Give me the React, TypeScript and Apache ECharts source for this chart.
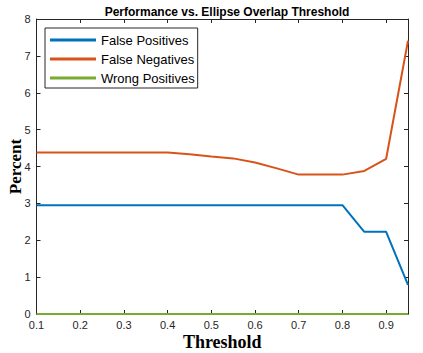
import React, { useEffect, useRef } from "react";
import * as echarts from "echarts";

const thresholds = [0.1, 0.15, 0.2, 0.25, 0.3, 0.35, 0.4, 0.45, 0.5, 0.55, 0.6, 0.65, 0.7, 0.75, 0.8, 0.85, 0.9, 0.95];
const falsePositives = [2.95, 2.95, 2.95, 2.95, 2.95, 2.95, 2.95, 2.95, 2.95, 2.95, 2.95, 2.95, 2.95, 2.95, 2.95, 2.23, 2.23, 0.79];
const falseNegatives = [4.38, 4.38, 4.38, 4.38, 4.38, 4.38, 4.38, 4.33, 4.27, 4.22, 4.11, 3.95, 3.78, 3.78, 3.78, 3.88, 4.21, 7.41];
const wrongPositives = [0, 0, 0, 0, 0, 0, 0, 0, 0, 0, 0, 0, 0, 0, 0, 0, 0, 0];
const seriesNames = ["False Positives", "False Negatives", "Wrong Positives"];
const colors = ["#0072BD", "#D95319", "#77AC30"];

const AX = "#262626";
const SANS = "Liberation Sans, Arial, sans-serif";
const SERIF = "Liberation Serif, Times New Roman, serif";

export default function App() {
  const ref = useRef<HTMLDivElement>(null);
  useEffect(() => {
    if (!ref.current) return;
    const chart = echarts.init(ref.current, null, { renderer: "svg" });
    const data = [falsePositives, falseNegatives, wrongPositives];
    const tickCommon = { show: true, inside: true, length: 4, lineStyle: { color: AX, width: 1 } };
    chart.setOption({
      animation: false,
      backgroundColor: "#ffffff",
      title: {
        text: "Performance vs. Ellipse Overlap Threshold",
        left: 222,
        textAlign: "center",
        top: 1,
        textStyle: { fontFamily: SANS, fontSize: 12, fontWeight: "bold", color: "#000" },
      },
      legend: {
        orient: "vertical",
        left: 45,
        top: 28,
        padding: [4, 3, 2, 5],
        itemGap: 3,
        itemWidth: 46,
        itemHeight: 3,
        icon: "rect",
        borderColor: AX,
        borderWidth: 1,
        backgroundColor: "#fff",
        textStyle: { fontFamily: SANS, fontSize: 13, color: "#000", lineHeight: 16 },
        data: seriesNames,
      },
      grid: { left: 36.5, right: 15, top: 19, bottom: 39, containLabel: false, outerBoundsMode: "none" },
      xAxis: [
        {
          type: "value",
          min: 0.1,
          max: 0.95,
          interval: 0.1,
          position: "bottom",
          axisLine: { show: true, onZero: false, lineStyle: { color: AX, width: 1 } },
          axisTick: tickCommon,
          splitLine: { show: false },
          axisLabel: {
            showMaxLabel: false,
            fontFamily: SANS,
            fontSize: 11,
            color: AX,
            margin: 5,
            formatter: (v: number) => (Math.abs(v - 0.95) < 1e-6 ? "" : v.toFixed(1)),
          },
          name: "Threshold",
          nameLocation: "middle",
          nameMoveOverlap: false,
          nameGap: 19,
          nameTextStyle: { fontFamily: SERIF, fontSize: 18, fontWeight: "bold", color: "#000" },
        },
        {
          type: "value",
          min: 0.1,
          max: 0.95,
          interval: 0.1,
          position: "top",
          axisLine: { show: true, onZero: false, lineStyle: { color: AX, width: 1 } },
          axisTick: tickCommon,
          axisLabel: { show: false },
          splitLine: { show: false },
        },
      ],
      yAxis: [
        {
          type: "value",
          min: 0,
          max: 8,
          interval: 1,
          position: "left",
          axisLine: { show: true, onZero: false, lineStyle: { color: AX, width: 1 } },
          axisTick: tickCommon,
          splitLine: { show: false },
          axisLabel: { fontFamily: SANS, fontSize: 11, color: AX, margin: 6 },
          name: "Percent",
          nameLocation: "middle",
          nameMoveOverlap: false,
          nameGap: 13,
          nameTextStyle: { fontFamily: SERIF, fontSize: 17, fontWeight: "bold", color: "#000" },
        },
        {
          type: "value",
          min: 0,
          max: 8,
          interval: 1,
          position: "right",
          axisLine: { show: true, onZero: false, lineStyle: { color: AX, width: 1 } },
          axisTick: tickCommon,
          axisLabel: { show: false },
          splitLine: { show: false },
        },
      ],
      series: data.map((d, i) => ({
        name: seriesNames[i],
        type: "line",
        data: thresholds.map((t, j) => [t, d[j]]),
        showSymbol: false,
        symbol: "none",
        clip: false,
        z: 10,
        lineStyle: { color: colors[i], width: 2 },
        itemStyle: { color: colors[i] },
      })),
    });
    return () => chart.dispose();
  }, []);
  return <div ref={ref} style={{ width: 423, height: 353, position: "absolute", left: 0, top: 0 }} />;
}
